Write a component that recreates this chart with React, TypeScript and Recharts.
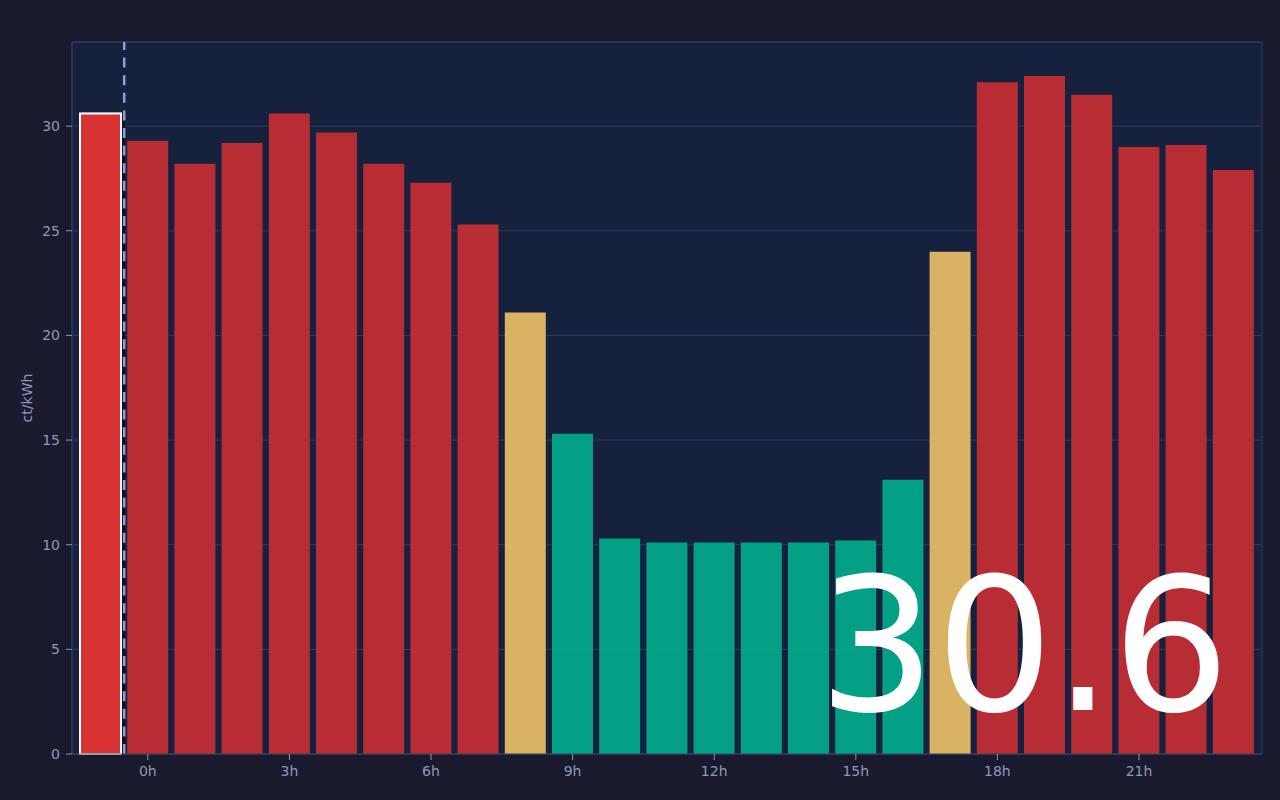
import { Bar, BarChart, CartesianGrid, Cell, ReferenceLine, XAxis, YAxis } from "recharts";

// hourly prices, first entry is the running hour of the previous day
const hours = [
  "-1", "0", "1", "2", "3", "4", "5", "6", "7", "8", "9", "10", "11",
  "12", "13", "14", "15", "16", "17", "18", "19", "20", "21", "22", "23",
];
const prices = [
  30.6, 29.3, 28.2, 29.2, 30.6, 29.7, 28.2, 27.3, 25.3, 21.1, 15.3, 10.3, 10.1,
  10.1, 10.1, 10.1, 10.2, 13.1, 24.0, 32.1, 32.4, 31.5, 29.0, 29.1, 27.9,
];
const levels = [
  "high", "high", "high", "high", "high", "high", "high", "high", "high", "mid", "low", "low", "low",
  "low", "low", "low", "low", "low", "mid", "high", "high", "high", "high", "high", "high",
];
const hourTicks = ["0", "3", "6", "9", "12", "15", "18", "21"];
const priceTicks = [0, 5, 10, 15, 20, 25, 30];
const currentIndex = 0;

const levelColors: Record<string, string> = {
  high: "#ca2e32",
  mid: "#efc267",
  low: "#02ae8e",
};

const PAGE_BG = "#1a1a2e";
const PLOT_BG = "#16213e";
const BORDER = "#2e3c63";
const GRID = "#2e3b60";
const TEXT = "#9196b8";

export default function App() {
  const data = hours.map((hour, i) => ({ hour, price: prices[i], level: levels[i] }));
  const yMax = Math.max(...prices) * 1.05;

  return (
    <div
      style={{
        position: "fixed",
        left: 0,
        top: 0,
        width: 1280,
        height: 800,
        background: PAGE_BG,
        fontFamily: "'DejaVu Sans', sans-serif",
      }}
    >
      <BarChart
        width={1280}
        height={800}
        data={data}
        margin={{ top: 42, right: 18, bottom: 0, left: 0 }}
        barCategoryGap={3}
      >
        <defs>
          <filter id="nowShadow" x="-20%" y="-5%" width="140%" height="110%">
            <feDropShadow dx="3" dy="0" stdDeviation="0.4" floodColor="#080a16" floodOpacity="0.85" />
          </filter>
        </defs>
        <CartesianGrid vertical={false} stroke={GRID} fill={PLOT_BG} fillOpacity={1} />
        <CartesianGrid
          stroke={BORDER}
          horizontalCoordinatesGenerator={({ offset }: any) => [offset.top, offset.top + offset.height]}
          verticalCoordinatesGenerator={({ offset }: any) => [offset.left, offset.left + offset.width]}
        />
        <XAxis
          dataKey="hour"
          ticks={hourTicks}
          tickFormatter={(v) => `${v}h`}
          padding={{ left: 5, right: 5 }}
          height={46}
          tickMargin={6}
          axisLine={{ stroke: BORDER }}
          tickLine={{ stroke: TEXT }}
          tick={{ fill: TEXT, fontSize: 14 }}
        />
        <YAxis
          domain={[0, yMax]}
          ticks={priceTicks}
          width={72}
          tickMargin={6}
          axisLine={{ stroke: BORDER }}
          tickLine={{ stroke: TEXT }}
          tick={{ fill: TEXT, fontSize: 14 }}
          label={{
            value: "ct/kWh",
            angle: -90,
            position: "insideLeft",
            offset: 27,
            fill: TEXT,
            fontSize: 14,
            style: { textAnchor: "middle" },
          }}
        />
        <Bar dataKey="price" isAnimationActive={false}>
          {data.map((d, i) =>
            i === currentIndex ? (
              <Cell
                key={d.hour}
                fill="#d93030"
                stroke="#ffffff"
                strokeWidth={2}
                filter="url(#nowShadow)"
              />
            ) : (
              <Cell key={d.hour} fill={levelColors[d.level]} fillOpacity={0.9} />
            ),
          )}
        </Bar>
        <ReferenceLine
          x={hours[currentIndex]}
          position="end"
          stroke="#8e9fd8"
          strokeWidth={2.5}
          strokeDasharray="10 7.6"
        />
      </BarChart>
      <svg
        width={1280}
        height={800}
        style={{ position: "absolute", left: 0, top: 0, pointerEvents: "none" }}
      >
        <text
          x={1024}
          y={710}
          textAnchor="middle"
          fill="#ffffff"
          fontSize={185}
          fontFamily="'DejaVu Sans', sans-serif"
        >
          {prices[currentIndex].toFixed(1)}
        </text>
      </svg>
    </div>
  );
}
